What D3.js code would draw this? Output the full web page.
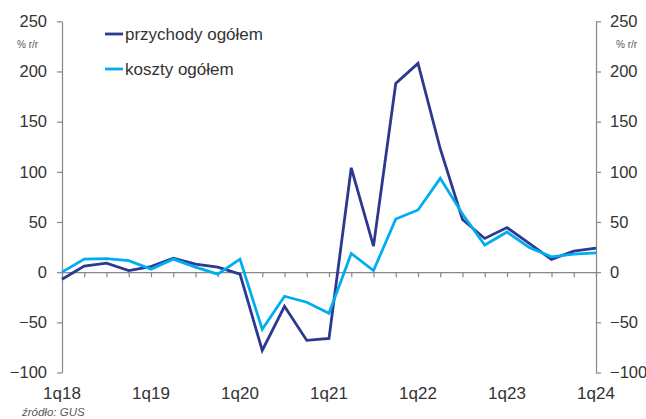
<!DOCTYPE html>
<html><head><meta charset="utf-8">
<script src="https://cdn.jsdelivr.net/npm/d3@7"></script>
<style>
body{margin:0;background:#fff;}
svg{display:block;font-family:"Liberation Sans",Arial,sans-serif;}
</style></head>
<body><svg id="c" width="646" height="419"></svg>
<script>
const quarters = ["1q18","2q18","3q18","4q18","1q19","2q19","3q19","4q19","1q20","2q20","3q20","4q20","1q21","2q21","3q21","4q21","1q22","2q22","3q22","4q22","1q23","2q23","3q23","4q23","1q24"];
const przychody = [-7,6,9,1.5,5.5,14,8,5,-2,-78,-34,-68,-66,104,26,188,208,123,52.5,33.6,44.5,28.6,12.7,21,24];
const koszty = [0,13,13.5,11.5,3,13,5,-2,13,-57,-24,-30,-41,18.6,1.5,53,62,93.5,58,27,40,24.6,15.3,18,19.3];
const yTicks = [-100,-50,0,50,100,150,200,250];
const xLabels = ["1q18","1q19","1q20","1q21","1q22","1q23","1q24"];
const seriesNames = ["przychody ogółem","koszty ogółem"];
const colors = ["#2B3990","#00AEEF"];

const svg = d3.select("#c");
const x = d3.scalePoint().domain(quarters).range([62,596]);
const y = d3.scaleLinear().domain([-100,250]).range([372.5,21.3]);
const axisColor = "#868686", textColor = "#333";

const gl = svg.append("g").attr("transform","translate(62,0)")
  .call(d3.axisLeft(y).tickValues(yTicks).tickSize(5).tickPadding(10).tickSizeOuter(0));
const gr = svg.append("g").attr("transform","translate(596,0)")
  .call(d3.axisRight(y).tickValues(yTicks).tickSize(5).tickPadding(9).tickSizeOuter(0));
[gl,gr].forEach(g=>{
  g.select(".domain").attr("stroke",axisColor).attr("stroke-width",1.2);
  g.selectAll(".tick line").attr("stroke",axisColor).attr("stroke-width",1.2);
  g.selectAll(".tick text").attr("fill",textColor).style("font-size","16.5px").style("font-family","'Liberation Sans',Arial,sans-serif");
});

const gx = svg.append("g").attr("transform",`translate(0,${y(0)})`)
  .call(d3.axisBottom(x).tickSize(5).tickFormat("").tickSizeOuter(0));
gx.select(".domain").attr("stroke",axisColor).attr("stroke-width",1.2);
gx.selectAll(".tick line").attr("stroke",axisColor).attr("stroke-width",1.2);

svg.append("g").selectAll("text").data(xLabels).join("text")
  .attr("x",d=>x(d)).attr("y",399).attr("text-anchor","middle")
  .attr("fill",textColor).style("font-size","17px").text(d=>d);

const line = d3.line().x((d,i)=>x(quarters[i])).y(d=>y(d));
[przychody,koszty].forEach((s,i)=>{
  svg.append("path").datum(s).attr("d",line).attr("fill","none")
    .attr("stroke",colors[i]).attr("stroke-width",2.8).attr("stroke-linejoin","miter");
});

seriesNames.forEach((n,i)=>{
  const yy = 34 + i*35;
  svg.append("line").attr("x1",105).attr("x2",123).attr("y1",yy).attr("y2",yy)
    .attr("stroke",colors[i]).attr("stroke-width",2.8);
  svg.append("text").attr("x",125).attr("y",yy).attr("dy","0.35em")
    .attr("fill",textColor).style("font-size","17px").text(n);
});

svg.append("text").attr("x",17).attr("y",48).attr("fill","#555").style("font-size","10px").text("% r/r");
svg.append("text").attr("x",616).attr("y",48).attr("fill","#555").style("font-size","10px").text("% r/r");

svg.append("text").attr("x",22).attr("y",416).attr("fill","#595959")
  .style("font-size","11.5px").style("font-style","italic").text("źródło: GUS");
</script>
</body></html>
